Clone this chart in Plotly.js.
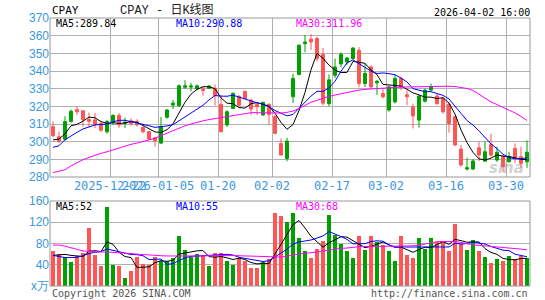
<!DOCTYPE html>
<html><head><meta charset="utf-8">
<script src="https://cdn.plot.ly/plotly-3.0.1.min.js"></script>
<style>html,body{margin:0;padding:0;background:#fff}#c{width:545px;height:300px}</style>
</head><body><div id="c"></div>
<script>
// ---- data ----
const dates = ["2025-12-08","2025-12-09","2025-12-10","2025-12-11","2025-12-12","2025-12-15","2025-12-16","2025-12-17","2025-12-18","2025-12-19",
"2025-12-22","2025-12-23","2025-12-24","2025-12-26","2025-12-29","2025-12-30","2025-12-31","2026-01-02","2026-01-05","2026-01-06",
"2026-01-07","2026-01-08","2026-01-09","2026-01-12","2026-01-13","2026-01-14","2026-01-15","2026-01-16","2026-01-20","2026-01-21",
"2026-01-22","2026-01-23","2026-01-26","2026-01-27","2026-01-28","2026-01-29","2026-01-30","2026-02-02","2026-02-03","2026-02-04",
"2026-02-05","2026-02-06","2026-02-09","2026-02-10","2026-02-11","2026-02-12","2026-02-13","2026-02-17","2026-02-18","2026-02-19",
"2026-02-20","2026-02-23","2026-02-24","2026-02-25","2026-02-26","2026-02-27","2026-03-02","2026-03-03","2026-03-04","2026-03-05",
"2026-03-06","2026-03-09","2026-03-10","2026-03-11","2026-03-12","2026-03-13","2026-03-16","2026-03-17","2026-03-18","2026-03-19",
"2026-03-20","2026-03-23","2026-03-24","2026-03-25","2026-03-26","2026-03-27","2026-03-30","2026-03-31","2026-04-01","2026-04-02"];

const open = [308.5,302.8,301.3,311.5,318.1,317.5,312.5,312.3,310.3,305.6,
311.0,314.8,310.3,311.8,311.4,308.0,305.7,302.2,299.2,313.8,
320.7,320.3,330.8,330.9,329.8,329.8,330.2,330.2,321.1,309.4,
318.8,325.7,328.5,323.5,321.1,315.1,321.1,314.2,299.0,290.5,
325.4,338.0,355.5,358.0,358.4,349.3,321.5,337.6,344.0,345.1,
347.0,351.7,332.9,342.3,333.3,327.3,317.9,322.5,335.8,326.5,
319.7,312.2,322.9,329.2,325.9,324.4,321.1,314.1,295.8,284.5,
284.5,296.5,289.0,298.4,289.6,291.5,288.6,296.2,291.5,288.6];

const high = [311.4,305.7,314.4,318.2,320.0,317.6,316.5,316.3,311.5,312.3,
315.6,316.2,313.6,313.2,312.7,309.5,306.0,302.5,314.0,318.5,
323.6,332.5,334.8,333.3,332.4,331.1,332.0,332.4,326.1,317.8,
327.9,326.2,328.5,324.4,322.3,322.6,321.7,315.1,301.8,302.2,
338.5,355.0,360.4,360.9,359.5,353.0,338.0,347.0,350.5,348.0,
353.5,353.5,344.3,343.3,335.0,330.1,331.8,337.7,336.7,329.2,
321.5,326.3,330.0,332.9,327.1,325.4,322.6,314.1,298.1,290.9,
290.0,300.0,300.0,304.5,297.2,292.4,294.3,299.0,297.2,300.7];

const low = [302.5,299.3,300.5,310.7,315.0,308.5,308.0,307.8,305.5,304.6,
309.4,307.8,307.8,309.0,308.5,304.7,300.9,297.3,298.6,313.0,
318.5,319.8,329.9,328.5,329.2,326.0,329.8,320.5,305.3,308.5,
318.5,320.3,324.0,315.1,315.1,314.7,309.4,304.2,292.4,288.9,
322.0,337.6,350.6,352.0,345.5,320.5,320.0,336.0,342.0,343.5,
346.5,330.8,331.0,330.0,326.5,324.6,317.0,321.6,329.2,320.7,
307.5,307.9,322.2,328.5,320.7,315.9,305.1,297.7,285.8,283.7,
283.9,289.0,288.6,291.5,288.6,282.7,288.2,288.0,285.2,285.2];

const close = [303.4,300.0,311.4,317.2,316.9,312.4,311.5,309.5,306.5,311.4,
314.8,309.5,311.0,310.3,309.5,305.7,301.5,300.6,308.5,317.9,
321.8,331.6,331.6,331.5,331.6,329.1,331.5,326.1,305.6,316.9,
327.3,320.6,324.4,318.5,319.8,322.3,315.4,304.7,292.4,300.3,
335.8,354.6,356.4,356.4,347.0,321.8,335.0,342.3,349.5,347.4,
353.0,332.9,338.6,331.0,334.2,325.4,331.0,335.8,331.0,325.4,
314.6,325.8,329.2,331.0,321.6,316.9,310.3,298.1,286.8,285.2,
289.1,292.5,294.3,292.4,294.0,285.8,291.5,290.9,287.7,294.0];

const ma5 = [301,301.5,304.4,309,309.8,311.6,313.9,313.5,311.4,310.3,
310.7,310.3,310.6,311.4,311,309.2,307.6,305.5,305.2,306.8,
310.1,316.1,322.3,326.9,329.6,331.1,331.1,330,324.8,321.8,
321.5,319.3,319,321.5,322.1,321.1,320.1,316.1,310.9,307,
309.7,317.6,327.9,340.7,350,347.2,343.3,340.5,339.1,339.2,
345.4,345,344.3,340.6,337.9,332.4,332,331.5,331.5,329.7,
327.6,326.5,325.2,325.2,324.4,324.9,321.8,315.6,306.7,299.5,
293.9,290.3,289.6,290.7,292.5,291.8,291.6,290.9,290,289.84];

const ma10 = [296.8,297.7,301.1,303.4,305.3,307.2,308.5,309.5,309.7,310,
311.2,312.1,312.1,311.4,310.6,310,309,308.1,308.3,308.9,
309.6,311.8,313.9,316,318.2,320.6,323.6,326.1,325.8,325.7,
326.3,325.2,324.5,323.2,322,321.3,319.7,317.6,316.2,314.6,
315.4,318.8,322,325.8,328.5,328.5,330.4,334.2,339.9,344.6,
346.3,344.2,342.4,339.9,338.6,338.9,338.5,337.9,336,333.8,
330,329.3,328.3,328.3,327.1,326.2,324.2,320.4,316,312,
309.4,306.1,302.6,298.7,296,292.9,291,290.3,290.3,290.88];

const ma30 = [282.5,283.1,284.1,286.3,288.2,289.8,291.1,292.4,293.4,294.3,
295.4,296.6,297.7,298.5,299.2,300,301,301.9,303.4,304.9,
306.3,307.8,309,310,311,311.8,312.5,313.1,313.7,314.3,
314.9,315.5,316.1,316.4,316.4,316.3,316.1,316,316.2,316.6,
317.3,318.8,320.7,322.3,323.4,324.6,325.6,326.4,327.2,328,
328.6,329.2,329.6,329.9,330.1,330.3,330.5,330.7,330.9,331,
331.1,331.2,331.3,331.4,331.5,331.5,331.4,331.2,330.8,330.1,
329,326.8,324.5,322.5,321,319.5,318,316.3,314.3,311.96];

const volume = [66,60,54,45,57,62,110,58,37,148,
39,37,16,28,55,42,39,55,48,48,
53,95,68,55,60,56,38,62,62,47,
40,52,48,34,34,45,51,137,132,120,
137,91,66,53,70,85,133,96,80,66,
53,94,67,94,83,77,65,48,94,58,
52,91,70,91,83,83,65,117,79,68,
86,65,54,43,50,47,56,50,56,52];

const volMa5 = [57.6,59,59.5,57.6,56.4,55.6,65.6,66.4,64.8,83,
78.4,63.8,55.4,53.6,35,35.6,36,43.8,47.8,46.4,
48.6,59.8,62.4,63.8,66.2,66.8,55.4,54.2,55.6,53,
49.8,52.6,49.8,44.2,41.6,42.6,42.4,60.2,79.8,97,
115.4,123.4,109.2,93.4,83.4,73,81.4,87.4,92.8,92,
85.6,77.8,72,74.8,78.2,83,77.2,73.4,73.4,68.4,
63.4,68.6,73,72.4,77.4,83.6,78.4,87.8,85.4,82.4,
83,83,70.4,63.2,59.6,51.8,50,49.2,51.8,52];

const volMa10 = [57.6,55.5,53.5,53.5,54,57,61,63.5,65,69.7,
67,64.7,60.9,59.2,59,57,49.9,49.6,50.7,40.7,
42.1,47.9,53.1,55.8,56.3,57.7,57.6,58.3,59.7,59.6,
58.3,54,52,49.9,47.3,46.2,47.5,55,62,69.3,
79,82.9,84.7,86.6,90.2,94.2,102.4,98.3,93.1,87.7,
79.3,79.6,79.7,83.8,85.1,84.3,77.5,72.7,74.1,73.3,
73.2,72.9,73.2,72.9,72.9,73.5,73.5,80.4,78.9,79.9,
83.3,80.7,79.1,74.3,71,67.4,66.5,59.8,57.5,55];

const volMa30 = [77,77,75,72,69,66,65,64,64,64,
63.5,63,62,61,60,59,58.5,58,57,56.5,
56.3,56.3,56.3,56.3,56.3,56.5,57,57.3,57.6,57.6,
57.3,57,56.5,56,55.5,55,54.5,54,54.5,56,
58.5,60.3,61.5,62.5,64,66,68,69.5,70.8,71.5,
73,74,74.3,74.3,74.3,74.3,74.3,74.3,74.8,75.3,
75.8,76.5,79,81.5,83.5,83.8,83.8,83.8,82,79.5,
77.5,76.5,75.3,74.3,73.3,72.3,71.3,70.5,69.5,68];

const tickDates = ["2025-12-22","2026-01-05","2026-01-20","2026-02-02","2026-02-17","2026-03-02","2026-03-16","2026-03-30"];
const tickLabels = ["2025-12-22","2026-01-05","01-20","02-02","02-17","03-02","03-16","03-30"];
const priceTicks = [280,290,300,310,320,330,340,350,360,370];
const volTicks = [0,40,80,120,160];
const volTickLabels = ["x万","40","80","120","160"];

// ---- drawing ----
const N = dates.length;
const xs = dates.map((d, i) => i);
const tickPos = tickDates.map(d => dates.indexOf(d) - 0.5);
const RED = '#ff5555', GREEN = '#00a000', BLUE = '#3a98dc';
const MONO = 'DejaVu Sans Mono, monospace';
const barColors = close.map((c, i) => c >= open[i] ? GREEN : RED);
const last = a => a[a.length - 1];

const W = 545, H = 300;
const px = v => v / W, py = v => 1 - v / H;
const L = px(50), R = px(530);

const traces = [
  {type: 'candlestick', x: xs, open: open, high: high, low: low, close: close,
   xaxis: 'x', yaxis: 'y', whiskerwidth: 0, hoverinfo: 'none',
   increasing: {line: {color: GREEN, width: 1}, fillcolor: GREEN},
   decreasing: {line: {color: RED, width: 1}, fillcolor: RED}},
  {type: 'scatter', mode: 'lines', x: xs, y: ma5, xaxis: 'x', yaxis: 'y', line: {color: '#000000', width: 1}},
  {type: 'scatter', mode: 'lines', x: xs, y: ma10, xaxis: 'x', yaxis: 'y', line: {color: '#0000ff', width: 1}},
  {type: 'scatter', mode: 'lines', x: xs, y: ma30, xaxis: 'x', yaxis: 'y', line: {color: '#ff00ff', width: 1}},
  {type: 'bar', x: xs, y: volume, xaxis: 'x2', yaxis: 'y2', width: 0.83,
   marker: {color: barColors, line: {width: 0}}},
  {type: 'scatter', mode: 'lines', x: xs, y: volMa5, xaxis: 'x2', yaxis: 'y2', line: {color: '#000000', width: 1}},
  {type: 'scatter', mode: 'lines', x: xs, y: volMa10, xaxis: 'x2', yaxis: 'y2', line: {color: '#0000ff', width: 1}},
  {type: 'scatter', mode: 'lines', x: xs, y: volMa30, xaxis: 'x2', yaxis: 'y2', line: {color: '#ff00ff', width: 1}}
];

function ann(text, x, y, xanchor, color, size, family) {
  return {text: text, x: px(x), y: py(y), xref: 'paper', yref: 'paper', xanchor: xanchor, yanchor: 'middle',
          showarrow: false, font: {family: family || MONO, size: size || 10, color: color}};
}

const layout = {
  width: W, height: H, margin: {l: 0, r: 0, t: 0, b: 0},
  paper_bgcolor: '#ffffff', plot_bgcolor: '#ffffff', showlegend: false, hovermode: false,
  boxgap: 0.3, bargap: 0,
  xaxis: {domain: [L, R], range: [-0.5, N - 0.5], anchor: 'y', tickmode: 'array', tickvals: tickPos, ticktext: tickLabels,
          tickangle: 0, showgrid: true, gridcolor: '#b0b0b0', gridwidth: 1, zeroline: false, showline: false, ticks: '',
          tickfont: {family: MONO, size: 12, color: BLUE}, rangeslider: {visible: false}, fixedrange: true},
  yaxis: {domain: [py(177), py(18)], range: [280, 370], tickmode: 'array', tickvals: priceTicks,
          showgrid: true, gridcolor: '#b0b0b0', gridwidth: 1, zeroline: false, showline: false, ticks: '',
          tickfont: {family: 'Liberation Sans, Arial, sans-serif', size: 12, color: BLUE}, fixedrange: true},
  xaxis2: {domain: [L, R], range: [-0.5, N - 0.5], anchor: 'y2', showticklabels: false, showgrid: false,
           zeroline: false, showline: false, ticks: '', fixedrange: true},
  yaxis2: {domain: [py(286), py(201)], range: [0, 160], tickmode: 'array', tickvals: volTicks, ticktext: volTickLabels,
           showgrid: true, gridcolor: '#b0b0b0', gridwidth: 1, zeroline: false, showline: false, ticks: '',
           tickfont: {family: 'Liberation Sans, Arial, sans-serif', size: 12, color: BLUE}, fixedrange: true},
  shapes: [
    {type: 'rect', xref: 'paper', yref: 'paper', x0: L, x1: R, y0: py(177), y1: py(18), line: {color: '#999999', width: 1}},
    {type: 'rect', xref: 'paper', yref: 'paper', x0: L, x1: R, y0: py(286), y1: py(201), line: {color: '#999999', width: 1}}
  ],
  annotations: [
    ann('CPAY', 50, 11, 'left', '#000000', 11),
    ann('CPAY - 日K线图', 167, 11, 'center', '#222222', 12, 'Liberation Mono, Noto Sans CJK SC, monospace'),
    ann('2026-04-02 16:00', 532, 12, 'right', '#000000', 10),
    ann('MA5:' + last(ma5).toFixed(2), 54, 23.5, 'left', '#000000', 10),
    ann('MA10:' + last(ma10).toFixed(2), 174, 23.5, 'left', '#0000ff', 10),
    ann('MA30:' + last(ma30).toFixed(2), 294, 23.5, 'left', '#ff00ff', 10),
    ann('MA5:' + Math.round(last(volMa5)), 54, 206, 'left', '#000000', 10),
    ann('MA10:' + Math.round(last(volMa10)), 174, 206, 'left', '#0000ff', 10),
    ann('MA30:' + Math.round(last(volMa30)), 294, 206, 'left', '#ff00ff', 10),
    ann('Copyright 2026 SINA.COM', 50, 293, 'left', '#555555', 10),
    ann('http://finance.sina.com.cn', 530, 293, 'right', '#555555', 10),
    {text: '<b><i>sina</i></b>', x: px(506), y: py(168), xref: 'paper', yref: 'paper', xanchor: 'center', yanchor: 'middle',
     showarrow: false, font: {family: 'DejaVu Sans, sans-serif', size: 15, color: 'rgba(150,150,150,0.45)'}}
  ]
};

Plotly.newPlot('c', traces, layout, {displayModeBar: false, staticPlot: true});
</script>
</body></html>
